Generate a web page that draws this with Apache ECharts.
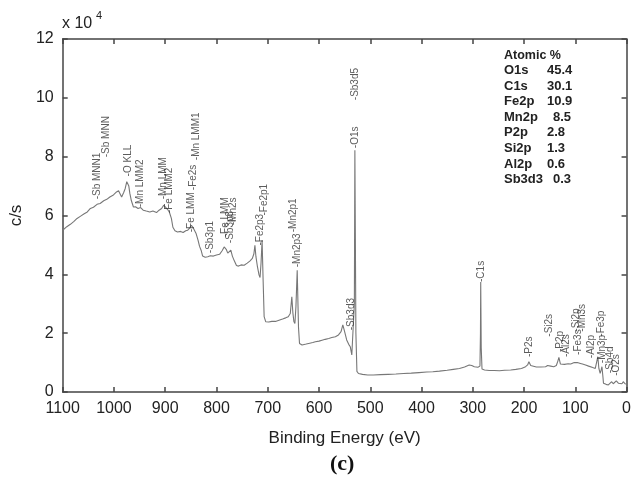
<!DOCTYPE html>
<html>
<head>
<meta charset="utf-8">
<script src="https://cdn.jsdelivr.net/npm/echarts@6/dist/echarts.min.js"></script>
<style>
  html, body { margin: 0; padding: 0; background: #fff; }
  #chart { width: 634px; height: 479px; }
</style>
</head>
<body>
<div id="chart"></div>
<script>
// XPS survey spectrum: binding energy (eV) and counts (x 10^4 c/s)
const bindingEnergy = [
  1100, 1092, 1085, 1078, 1072, 1065, 1058, 1052, 1046, 1040, 1033, 1027, 1020, 1014, 1008, 1001,
  995, 991, 987, 985, 981, 978, 975, 973, 971, 969, 966, 962, 958, 953, 948, 943, 937, 930, 924,
  917, 912, 907, 903, 900, 896, 892, 888, 885, 881, 876, 870, 865, 860, 856, 852, 849, 846, 843,
  840, 836, 833, 830, 827, 822, 817, 812, 806, 800, 794, 789, 785, 781, 778, 775, 772, 769, 765,
  761, 757, 752, 746, 740, 735, 730, 727, 725, 723, 720, 717, 715, 713, 711, 709, 707, 704, 698,
  692, 685, 678, 671, 665, 660, 656, 653, 651, 649, 647, 645, 642.5, 640, 638, 633, 625, 618, 612,
  607, 600, 594, 588, 581, 575, 568, 562, 557, 553.5, 550, 546, 542, 539, 536, 533, 531, 530, 528,
  526, 523, 515, 505, 494, 480, 465, 450, 435, 420, 405, 390, 378, 365, 350, 338, 326, 316, 307,
  302, 297, 290, 286, 285, 284.5, 283.5, 282, 277, 268, 258, 248, 238, 226, 216, 205, 197, 193,
  190.5, 187, 184, 176, 167, 158, 154, 151.5, 148, 142, 137, 134, 132, 129, 126, 121, 118, 114,
  109, 106, 102, 99, 96, 93, 90, 86, 80, 74, 71, 66, 61, 58, 56, 54, 51.5, 49.5, 48, 46, 45, 40,
  35.5, 32, 29, 26, 22.5, 20, 19, 16, 13, 9, 6.4, 3, 0.5
];
const intensity = [
  5.50, 5.62, 5.70, 5.80, 5.90, 5.98, 6.06, 6.12, 6.24, 6.28, 6.38, 6.41, 6.50, 6.55, 6.63, 6.70,
  6.80, 6.84, 6.70, 6.63, 6.78, 6.92, 7.15, 7.20, 7.00, 6.75, 6.50, 6.29, 6.30, 6.24, 6.27, 6.18, 6.15, 6.12, 6.15,
  6.10, 6.18, 6.24, 6.35, 6.33, 6.22, 6.12, 5.90, 5.60, 5.48, 5.44, 5.46, 5.42, 5.48, 5.50, 5.58, 5.67, 5.60, 5.56,
  5.40, 5.16, 4.95, 4.82, 4.62, 4.58, 4.60, 4.63, 4.62, 4.66, 4.68, 4.80, 4.93, 4.85, 4.72, 4.74, 4.82, 4.62, 4.45,
  4.30, 4.28, 4.32, 4.31, 4.38, 4.45, 4.54, 4.70, 4.99, 4.60, 4.25, 3.98, 3.89, 4.40, 5.16, 3.80, 2.56, 2.39, 2.38,
  2.40, 2.40, 2.44, 2.48, 2.52, 2.56, 2.67, 3.24, 2.70, 2.40, 2.33, 2.90, 4.14, 2.20, 1.65, 1.60, 1.63, 1.66, 1.68,
  1.71, 1.73, 1.76, 1.79, 1.82, 1.85, 1.88, 1.94, 2.05, 2.28, 2.05, 1.77, 1.62, 1.54, 1.26, 1.20, 3.00, 8.22, 2.00,
  0.70, 0.63, 0.60, 0.58, 0.58, 0.59, 0.60, 0.61, 0.63, 0.64, 0.66, 0.68, 0.69, 0.71, 0.74, 0.77, 0.80, 0.85, 0.92,
  0.90, 0.86, 0.84, 0.88, 2.00, 3.74, 1.50, 0.78, 0.75, 0.73, 0.73, 0.72, 0.74, 0.75, 0.77, 0.80, 0.86, 0.92,
  1.03, 0.90, 0.86, 0.85, 0.85, 0.86, 0.90, 0.95, 0.88, 0.86, 0.90, 1.05, 1.18, 0.95, 0.92, 0.94, 1.00, 0.96,
  0.95, 0.96, 1.00, 1.03, 1.00, 1.02, 0.97, 0.95, 0.92, 0.88, 0.86, 0.83, 0.80, 0.82, 1.20, 0.80, 0.63, 0.75, 0.86, 0.50, 0.30, 0.26,
  0.24, 0.30, 0.35, 0.28, 0.24, 0.38, 0.41, 0.30, 0.24, 0.28, 0.35, 0.28, 0.27
];

// Peak annotations: name, energy position, height where the label starts
const peakNames = [
  '-Sb MNN1', '-Sb MNN', '-O KLL', '-Mn LMM2', '-Mn LMM', '-Fe LMM2', '-Fe LMM', '-Fe2s', '-Mn LMM1',
  '-Sb3p1', '-Fe LMM', '-Sb3p3', '-Mn2s', '-Fe2p3', '-Fe2p1', '-Mn2p3', '-Mn2p1', '-Sb3d5', '-O1s',
  '-Sb3d3', '-C1s', '-P2s', '-Si2s', '-P2p', '-Al2s', '-Fe3s', '-Si2p', '-Mn3s', '-Al2p', '-Fe3p',
  '-Mn3p', '-Sb4d', '-O2s'
];
const peakEnergy = [
  1033, 1016, 972, 949, 903, 892, 850, 845, 840,
  812, 782, 774, 768, 714, 706, 643, 650, 530, 530,
  537, 283, 189, 150, 130, 117, 94, 99, 86, 69, 50,
  47, 32, 21
];
const peakLevel = [
  6.55, 7.98, 7.33, 6.28, 6.55, 6.08, 5.43, 6.86, 7.88,
  4.72, 5.26, 5.06, 5.67, 4.98, 6.00, 4.24, 5.43, 9.92, 8.29,
  2.10, 3.74, 1.19, 1.88, 1.36, 1.19, 1.26, 2.05, 2.05, 1.15, 1.88,
  0.98, 0.64, 0.55
];

// Atomic composition table
const atomicNames = ['O1s', 'C1s', 'Fe2p', 'Mn2p', 'P2p', 'Si2p', 'Al2p', 'Sb3d3'];
const atomicValues = ['45.4', '30.1', '10.9', '8.5', '2.8', '1.3', '0.6', '0.3'];

// Axis tick settings
const xTicks = { min: 0, max: 1100, interval: 100 };
const yTicks = { min: 0, max: 12, interval: 2 };

const spectrum = bindingEnergy.map((e, i) => [e, intensity[i]]);
const peaks = peakNames.map((n, i) => ({ name: n, value: [peakEnergy[i], peakLevel[i]] }));

const FONT = '"Liberation Sans", Arial, sans-serif';
const axisLineStyle = { color: '#444', width: 1.5 };

const graphics = [
  { type: 'text', left: 62, top: 16, style: { text: 'x 10', font: '16px ' + FONT, fill: '#222' } },
  { type: 'text', left: 96, top: 10, style: { text: '4', font: '11px ' + FONT, fill: '#222' } },
  { type: 'text', left: 504, top: 49, style: { text: 'Atomic %', font: 'bold 12.5px ' + FONT, fill: '#222' } },
  { type: 'text', left: 330, top: 453, style: { text: '(c)', font: 'bold 22px "Liberation Serif", "DejaVu Serif", serif', fill: '#111' } }
];
atomicNames.forEach((n, i) => {
  const y = 64 + i * 15.6;
  graphics.push({ type: 'text', left: 504, top: y, style: { text: n, font: 'bold 13px ' + FONT, fill: '#222' } });
  const vx = atomicValues[i].length === 3 && (n === 'Mn2p' || n === 'Sb3d3') ? 553 : 547;
  graphics.push({ type: 'text', left: vx, top: y, style: { text: atomicValues[i], font: 'bold 13px ' + FONT, fill: '#222' } });
});

const chart = echarts.init(document.getElementById('chart'), null, { renderer: 'canvas' });
chart.setOption({
  animation: false,
  backgroundColor: '#fff',
  grid: { left: 60, right: 6, top: 39, bottom: 87 },
  xAxis: [
    {
      type: 'value', inverse: true, min: xTicks.min, max: xTicks.max, interval: xTicks.interval,
      name: 'Binding Energy (eV)', nameLocation: 'middle', nameGap: 38,
      nameTextStyle: { fontFamily: FONT, fontSize: 17, color: '#222' },
      axisLine: { show: true, onZero: false, lineStyle: axisLineStyle },
      axisTick: { show: true, inside: true, length: 5, lineStyle: axisLineStyle },
      axisLabel: { fontFamily: FONT, fontSize: 16, color: '#222', margin: 9, formatter: v => String(v) },
      splitLine: { show: false }
    },
    {
      type: 'value', inverse: true, position: 'top', min: xTicks.min, max: xTicks.max, interval: xTicks.interval,
      axisLine: { show: true, onZero: false, lineStyle: axisLineStyle },
      axisTick: { show: true, inside: true, length: 5, lineStyle: axisLineStyle },
      axisLabel: { show: false }, splitLine: { show: false }
    }
  ],
  yAxis: [
    {
      type: 'value', min: yTicks.min, max: yTicks.max, interval: yTicks.interval,
      name: 'c/s', nameLocation: 'middle', nameGap: 35, nameRotate: 90,
      nameTextStyle: { fontFamily: FONT, fontSize: 17, color: '#222' },
      axisLine: { show: true, onZero: false, lineStyle: axisLineStyle },
      axisTick: { show: true, inside: true, length: 5, lineStyle: axisLineStyle },
      axisLabel: { fontFamily: FONT, fontSize: 16, color: '#222', margin: 9 },
      splitLine: { show: false }
    },
    {
      type: 'value', position: 'right', min: yTicks.min, max: yTicks.max, interval: yTicks.interval,
      axisLine: { show: true, onZero: false, lineStyle: axisLineStyle },
      axisTick: { show: true, inside: true, length: 5, lineStyle: axisLineStyle },
      axisLabel: { show: false }, splitLine: { show: false }
    }
  ],
  series: [
    {
      type: 'line', data: spectrum, showSymbol: false, symbol: 'none',
      lineStyle: { color: '#777', width: 1.1 }, z: 2
    },
    {
      type: 'scatter', data: peaks, symbolSize: 0, z: 3,
      label: {
        show: true, formatter: p => p.name, rotate: 90, position: [0, 0],
        align: 'left', verticalAlign: 'middle',
        fontFamily: FONT, fontSize: 10, color: '#333'
      }
    }
  ],
  graphic: graphics
});
</script>
</body>
</html>
